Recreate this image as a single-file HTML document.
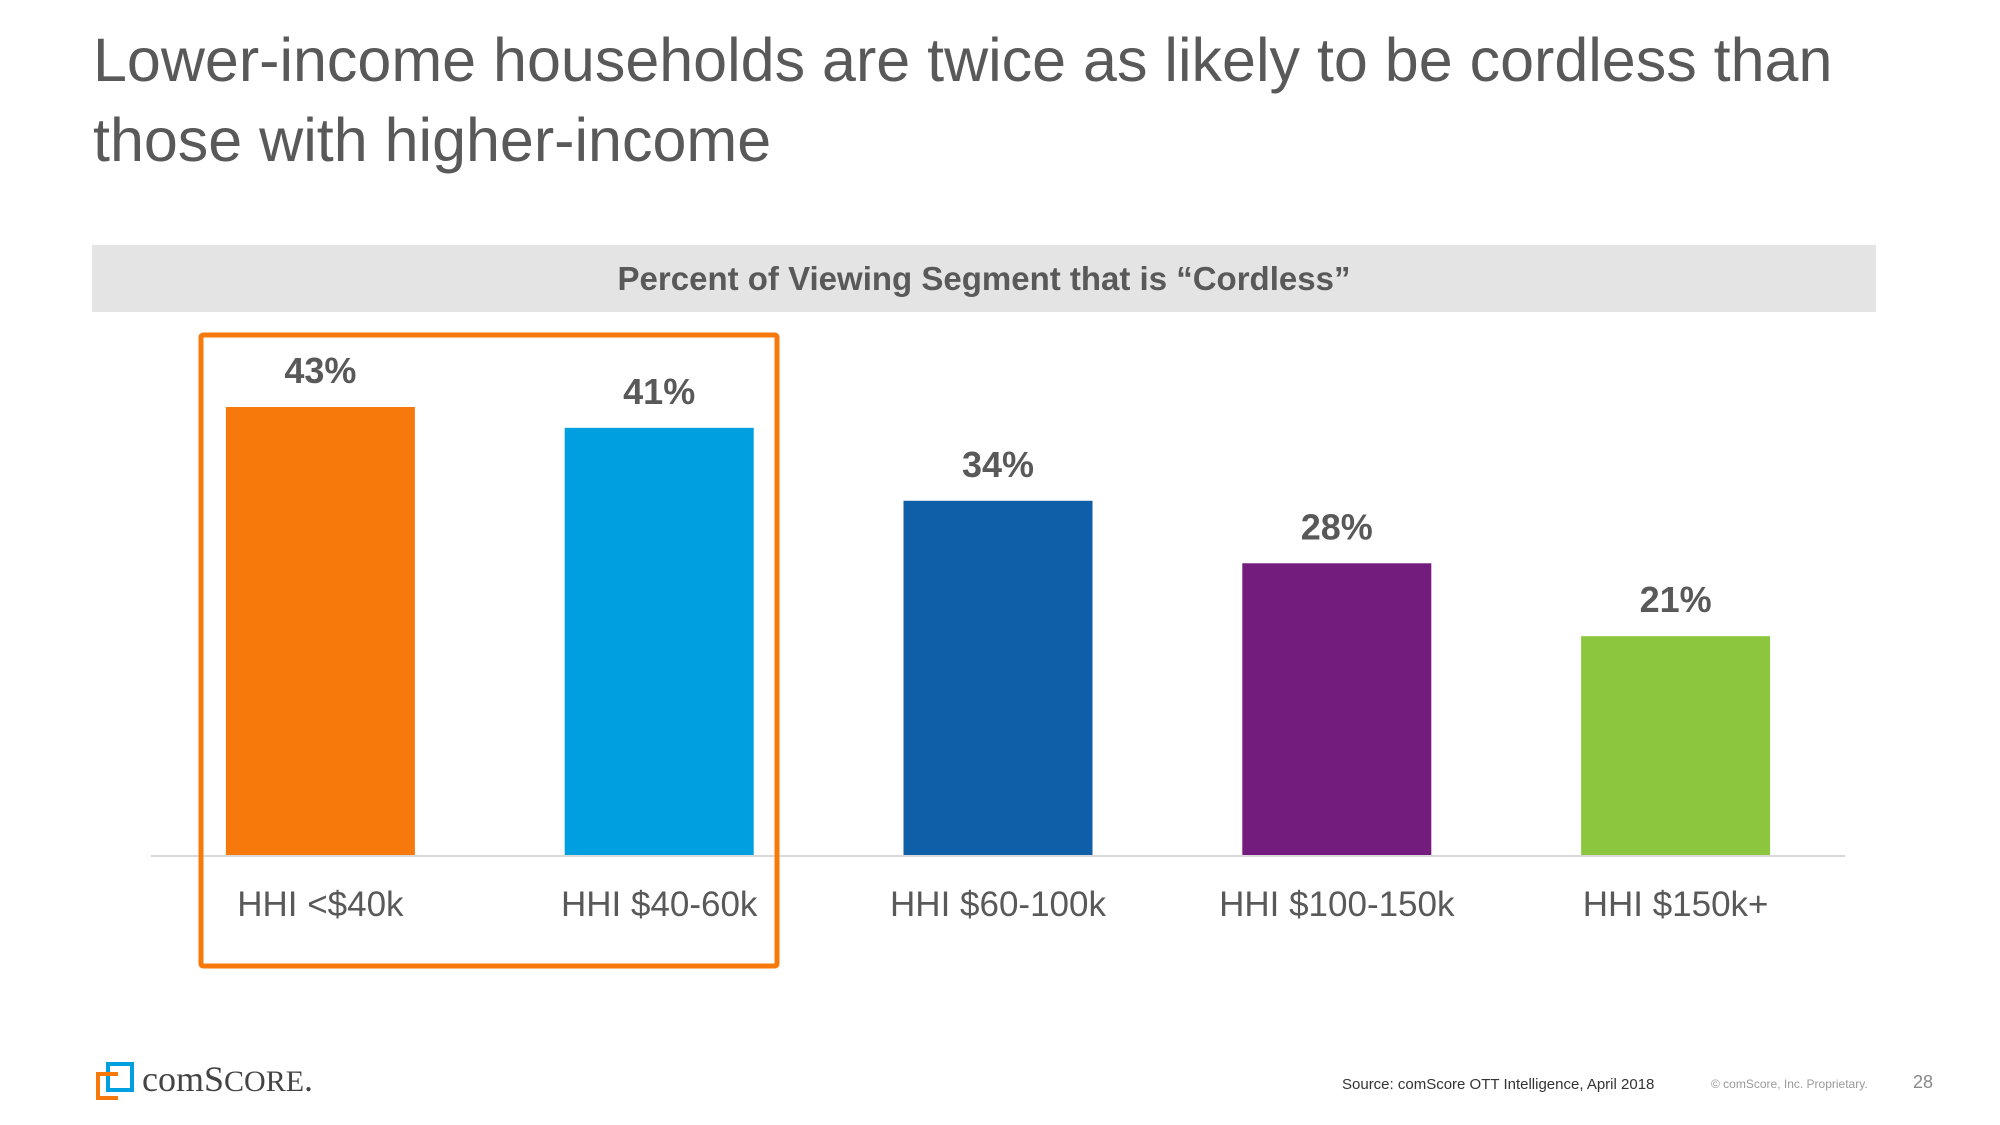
<!DOCTYPE html>
<html><head><meta charset="utf-8"><style>
body{margin:0;width:2000px;height:1125px;background:#fff;overflow:hidden;font-family:"Liberation Sans",sans-serif;position:relative}
.t{position:absolute;white-space:nowrap}
</style></head><body>
<div class="t" style="left:93px;top:20px;font-size:61px;line-height:80px;color:#595959">Lower-income households are twice as likely to be cordless than<br>those with higher-income</div>
<div style="position:absolute;left:92px;top:245px;width:1784px;height:67px;background:#e4e4e4"></div>
<div class="t" style="left:92px;top:245px;width:1784px;height:67px;line-height:67px;text-align:center;font-size:33px;font-weight:bold;color:#595959">Percent of Viewing Segment that is “Cordless”</div>
<svg id="chart" width="2000" height="1125" style="position:absolute;left:0;top:0"></svg>
<div style="position:absolute;left:96px;top:1062px;width:36px;height:36px">
<div style="position:absolute;left:10px;top:0;width:20px;height:22px;border:4px solid #00a0e0"></div>
<div style="position:absolute;left:0;top:10px;width:18px;height:20px;border:4px solid #f7790b;border-right:none"></div></div>
<div class="t" style="left:142px;top:1058px;font-size:36px;color:#444;font-family:'Liberation Serif',serif">comS<span style="font-size:30px">CORE</span>.</div>
<div class="t" style="left:1342px;top:1076px;font-size:15px;color:#333">Source: comScore OTT Intelligence, April 2018</div>
<div class="t" style="left:1711px;top:1077px;font-size:12px;color:#999">© comScore, Inc. Proprietary.</div>
<div class="t" style="left:1913px;top:1072px;font-size:18px;color:#888">28</div>
<script>
const categories=["HHI <$40k","HHI $40-60k","HHI $60-100k","HHI $100-150k","HHI $150k+"];
const values=[43,41,34,28,21];
const valueLabels=["43%","41%","34%","28%","21%"];
const colors=["#f7790b","#00a0e0","#0f5ea8","#731c7e","#8cc63f"];
const NS="http://www.w3.org/2000/svg";
const svg=document.getElementById('chart');
const x0=151,x1=1845,y0=855,band=(x1-x0)/categories.length,barW=189;
const yScale=v=>y0-v*(448/43);
const xCenter=i=>x0+band*(i+0.5);
function mk(t,a){const e=document.createElementNS(NS,t);for(const k in a)e.setAttribute(k,a[k]);svg.appendChild(e);return e;}
categories.forEach((c,i)=>{
 const r=mk('rect',{x:xCenter(i)-barW/2,y:yScale(values[i]),width:barW,height:y0-yScale(values[i]),fill:colors[i]});
 
 
 const l=mk('text',{x:xCenter(i),y:yScale(values[i])-24,'text-anchor':'middle','font-size':36,'font-weight':'bold',fill:'#595959','font-family':'Liberation Sans,sans-serif'});
 l.textContent=valueLabels[i];
 
 
 const cl=mk('text',{x:xCenter(i),y:916,'text-anchor':'middle','font-size':35,fill:'#595959','font-family':'Liberation Sans,sans-serif'});
 cl.textContent=c;
 
 
});
const ax=mk('line',{x1:x0,x2:x1,y1:y0+1,y2:y0+1,stroke:'#d9d9d9','stroke-width':2});


const hb=mk('rect',{x:201,y:335,width:576,height:631,fill:'none',stroke:'#f7790b','stroke-width':5,rx:2});


</script>
</body></html>
